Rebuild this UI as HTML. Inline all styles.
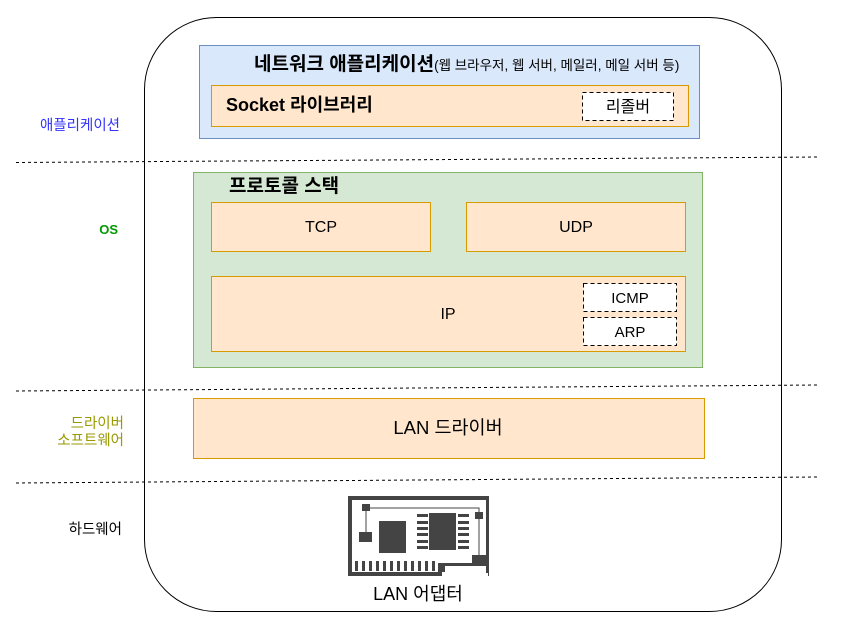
<!DOCTYPE html>
<html><head><meta charset="utf-8"><style>
body{margin:0;width:841px;height:635px;background:#fff;overflow:hidden}
svg text{font-family:"Liberation Sans","Noto Sans CJK KR",sans-serif}
</style></head><body>
<svg width="841" height="635" viewBox="0 0 841 635" xmlns="http://www.w3.org/2000/svg">
<rect x="144.5" y="17.5" width="637" height="594" rx="72" fill="#fff" stroke="#000" stroke-width="1"/>
<g stroke="#000" stroke-dasharray="3,3" stroke-width="1">
<line x1="16" y1="162.5" x2="818" y2="157"/>
<line x1="16" y1="391" x2="818" y2="385"/>
<line x1="16" y1="483" x2="818" y2="477"/>
</g>
<rect x="199.5" y="45.5" width="500" height="93" fill="#dae8fc" stroke="#6c8ebf"/>
<text x="254" y="70" font-size="19" font-weight="bold">네트워크 애플리케이션<tspan font-size="13.5" font-weight="normal">(웹 브라우저, 웹 서버, 메일러, 메일 서버 등)</tspan></text>
<rect x="211.5" y="85.5" width="477" height="41" fill="#ffe6cc" stroke="#d79b00"/>
<text x="226" y="111" font-size="18" font-weight="bold">Socket 라이브러리</text>
<rect x="582.5" y="92.5" width="91" height="28" fill="#fff" stroke="#000" stroke-dasharray="4,3"/>
<text x="628" y="112" font-size="16" text-anchor="middle">리졸버</text>
<rect x="193.5" y="172.5" width="509" height="195" fill="#d5e8d4" stroke="#82b366"/>
<text x="229" y="192" font-size="19" font-weight="bold">프로토콜 스택</text>
<rect x="211.5" y="202.5" width="219" height="49" fill="#ffe6cc" stroke="#d79b00"/>
<text x="321" y="232" font-size="16" text-anchor="middle">TCP</text>
<rect x="466.5" y="202.5" width="219" height="49" fill="#ffe6cc" stroke="#d79b00"/>
<text x="576" y="232" font-size="16" text-anchor="middle">UDP</text>
<rect x="211.5" y="276.5" width="474" height="75" fill="#ffe6cc" stroke="#d79b00"/>
<text x="448" y="319" font-size="16" text-anchor="middle">IP</text>
<rect x="583.5" y="283.5" width="93" height="28" fill="#fff" stroke="#000" stroke-dasharray="4,3"/>
<text x="630" y="303" font-size="15" text-anchor="middle">ICMP</text>
<rect x="583.5" y="317.5" width="93" height="28" fill="#fff" stroke="#000" stroke-dasharray="4,3"/>
<text x="630" y="337" font-size="15" text-anchor="middle">ARP</text>
<rect x="193.5" y="398.5" width="511" height="60" fill="#ffe6cc" stroke="#d79b00"/>
<text x="448" y="434" font-size="18.5" text-anchor="middle">LAN 드라이버</text>
<text x="120" y="130" font-size="14.5" fill="#3333ff" text-anchor="end">애플리케이션</text>
<text x="118" y="234" font-size="13" font-weight="bold" fill="#009900" text-anchor="end">OS</text>
<text x="124" y="428" font-size="14.5" fill="#999900" text-anchor="end">드라이버</text>
<text x="124" y="445" font-size="14.5" fill="#999900" text-anchor="end">소프트웨어</text>
<text x="122" y="534" font-size="14.5" text-anchor="end">하드웨어</text>
<g fill="#444" stroke="none">
<path d="M348,496 H489 V576 H488 V573 H486 V566 H445 V572 H442 V576 H348 Z M352,500 V572 H438 V563 H486 V500 Z" fill-rule="evenodd"/>
<rect x="379" y="521" width="27" height="32"/>
<rect x="429" y="513" width="27" height="37"/>
<rect x="359" y="532" width="13" height="10"/>
<rect x="362" y="504" width="8" height="7"/>
<rect x="475" y="512" width="8" height="7"/>
<rect x="472" y="555" width="15" height="10"/>
<g>
<rect x="417" y="514" width="11" height="3"/><rect x="417" y="521" width="11" height="3"/><rect x="417" y="527" width="11" height="3"/><rect x="417" y="533" width="11" height="3"/><rect x="417" y="540" width="11" height="3"/><rect x="417" y="546" width="11" height="3"/>
<rect x="458" y="514" width="11" height="3"/><rect x="458" y="521" width="11" height="3"/><rect x="458" y="527" width="11" height="3"/><rect x="458" y="533" width="11" height="3"/><rect x="458" y="540" width="11" height="3"/><rect x="458" y="546" width="11" height="3"/>
</g>
<g>
<rect x="355" y="561" width="3" height="10"/><rect x="362" y="561" width="3" height="10"/><rect x="369" y="561" width="3" height="10"/><rect x="376" y="561" width="3" height="10"/><rect x="383" y="561" width="3" height="10"/><rect x="390" y="561" width="3" height="10"/><rect x="397" y="561" width="3" height="10"/><rect x="404" y="561" width="3" height="10"/><rect x="411" y="561" width="3" height="10"/><rect x="418" y="561" width="3" height="10"/><rect x="425" y="561" width="3" height="10"/><rect x="432" y="561" width="3" height="10"/>
</g>
</g>
<g stroke="#444" stroke-width="1" fill="none">
<path d="M366,508 H479 V512"/><path d="M479,519 V555"/><path d="M366,508 V532"/>
</g>
<text x="418" y="600" font-size="18" text-anchor="middle">LAN 어댑터</text>
</svg>
</body></html>
